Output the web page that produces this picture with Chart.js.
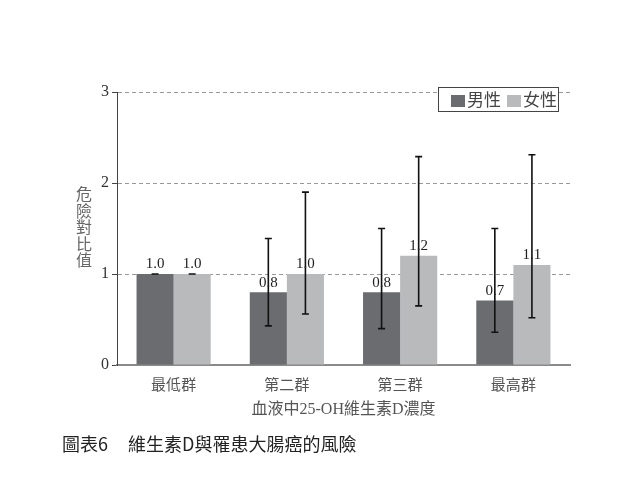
<!DOCTYPE html>
<html>
<head>
<meta charset="utf-8">
<script src="https://cdn.jsdelivr.net/npm/chart.js@4.4.0/dist/chart.umd.min.js"></script>
<style>
  html, body { margin: 0; padding: 0; background: #fff; }
  #wrap { width: 640px; height: 479px; position: relative; }
</style>
</head>
<body>
<div id="wrap"><canvas id="riskChart"></canvas></div>
<script>
// data
const groups = ['最低群', '第二群', '第三群', '最高群'];
const seriesNames = ['男性', '女性'];
const maleRisk = [1.0, 0.8, 0.8, 0.71];
const femaleRisk = [1.0, 1.0, 1.2, 1.1];
const maleLow = [1.0, 0.43, 0.40, 0.36];
const maleHigh = [1.0, 1.39, 1.50, 1.50];
const femaleLow = [1.0, 0.56, 0.65, 0.52];
const femaleHigh = [1.0, 1.90, 2.29, 2.31];
const yTicks = [0, 1, 2, 3];

const darkGrey = '#6b6c6f';
const lightGrey = '#b9babc';
const errLow = [maleLow, femaleLow];
const errHigh = [maleHigh, femaleHigh];

// error bars, value labels, legend box and the texts around the plot
const extras = {
    id: 'extras',
    afterDatasetsDraw(chart) {
        const ctx = chart.ctx;
        const y = chart.scales.y;
        ctx.save();
        chart.data.datasets.forEach((ds, di) => {
            const meta = chart.getDatasetMeta(di);
            meta.data.forEach((bar, i) => {
                const cx = bar.x;
                const top = y.getPixelForValue(errHigh[di][i]);
                const bot = y.getPixelForValue(errLow[di][i]);
                ctx.strokeStyle = '#111';
                ctx.lineWidth = 1.6;
                ctx.beginPath();
                ctx.moveTo(cx, top); ctx.lineTo(cx, bot);
                ctx.moveTo(cx - 3.5, top); ctx.lineTo(cx + 3.5, top);
                ctx.moveTo(cx - 3.5, bot); ctx.lineTo(cx + 3.5, bot);
                ctx.stroke();
            });
        });
        ctx.fillStyle = '#222';
        ctx.font = '15px "Liberation Serif", serif';
        ctx.textAlign = 'center';
        ctx.textBaseline = 'bottom';
        chart.data.datasets.forEach((ds, di) => {
            const meta = chart.getDatasetMeta(di);
            meta.data.forEach((bar, i) => {
                ctx.fillText(ds.data[i].toFixed(1), bar.x, bar.y - 2);
            });
        });

        // legend
        ctx.fillStyle = '#fff';
        ctx.fillRect(438.5, 87.5, 120, 24);
        ctx.strokeStyle = '#444';
        ctx.lineWidth = 1;
        ctx.strokeRect(438.5, 87.5, 120, 24);
        ctx.font = '17px "Noto Sans CJK TC", sans-serif';
        ctx.textAlign = 'left';
        ctx.textBaseline = 'middle';
        let lx = 451;
        chart.data.datasets.forEach((ds) => {
            ctx.fillStyle = ds.backgroundColor;
            ctx.fillRect(lx, 95, 14, 12);
            ctx.fillStyle = '#444';
            ctx.fillText(ds.label, lx + 16, 100);
            lx += 56;
        });

        // y axis title, stacked characters
        ctx.fillStyle = '#666';
        ctx.font = '16px "Noto Sans CJK TC", sans-serif';
        ctx.textAlign = 'center';
        const yTitle = '危險對比值';
        for (let k = 0; k < yTitle.length; k++) {
            ctx.fillText(yTitle[k], 84, 194 + k * 16.5);
        }

        // x axis title
        ctx.fillStyle = '#555';
        ctx.font = '16px "Liberation Serif", "Noto Sans CJK TC", serif';
        ctx.fillText('血液中25-OH維生素D濃度', (chart.chartArea.left + chart.chartArea.right) / 2, 410);

        // figure caption
        ctx.fillStyle = '#222';
        ctx.font = '18px "Noto Sans CJK TC", sans-serif';
        ctx.textAlign = 'left';
        ctx.fillText('圖表6', 62, 444);
        ctx.fillText('維生素D與罹患大腸癌的風險', 128, 444);
        ctx.restore();
    }
};

const ctx = document.getElementById('riskChart').getContext('2d');
const riskChart = new Chart(ctx, {
    type: 'bar',
    data: {
        labels: groups,
        datasets: [
            { label: seriesNames[0], data: maleRisk, backgroundColor: darkGrey },
            { label: seriesNames[1], data: femaleRisk, backgroundColor: lightGrey }
        ]
    },
    options: {
        responsive: true,
        maintainAspectRatio: false,
        animation: false,
        layout: { padding: { top: 92, right: 70, left: 0, bottom: 0 } },
        datasets: {
            bar: { categoryPercentage: 0.655, barPercentage: 1.0 }
        },
        plugins: {
            legend: { display: false },
            tooltip: { enabled: false }
        },
        scales: {
            x: {
                afterFit: (s) => { s.height = 114; },
                grid: { display: false },
                border: { display: true, color: '#8a8a8a', width: 2 },
                ticks: {
                    color: '#555',
                    padding: 2,
                    font: { family: '"Noto Sans CJK TC", sans-serif', size: 15 }
                }
            },
            y: {
                min: 0,
                max: 3,
                afterFit: (s) => { s.width = 117; },
                afterBuildTicks: (s) => { s.ticks = yTicks.map(v => ({ value: v })); },
                border: { display: true, color: '#444', width: 1, dash: [4, 3] },
                grid: {
                    drawOnChartArea: true,
                    drawTicks: true,
                    tickLength: 5,
                    color: (c) => c.tick && c.tick.value === 0 ? 'rgba(0,0,0,0)' : '#999',
                    tickColor: '#444',
                    lineWidth: 1,
                    tickBorderDash: []
                },
                ticks: {
                    color: '#333',
                    padding: 3,
                    font: { family: '"Liberation Serif", serif', size: 16 },
                    callback: (v) => String(v)
                }
            }
        }
    },
    plugins: [extras]
});
</script>
</body>
</html>
